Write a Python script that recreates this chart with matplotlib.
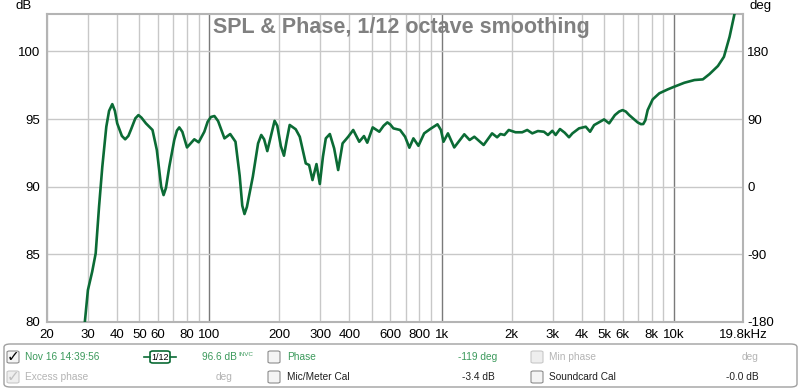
import numpy as np
import matplotlib
matplotlib.use('Agg')
from matplotlib import pyplot as plt
from matplotlib.patches import FancyBboxPatch

plt.rcParams['font.family'] = ['Liberation Sans', 'DejaVu Sans']
plt.rcParams['axes.unicode_minus'] = False

# SPL curve (Hz, dB)
freq = [29.1, 30.0, 31.3, 32.4, 33.5, 34.6, 36.0, 37.0, 38.2, 39.2, 40.1, 42.0,
        43.4, 44.8, 45.9, 48.0, 49.5, 51.0, 53.3, 56.9, 59.4, 62.0, 63.5, 65.0,
        67.2, 70.6, 72.5, 74.2, 76.5, 80.1, 86.1, 89.9, 95.1, 98.3, 101.5, 105.1,
        109.0, 116.1, 122.9, 129.5, 135.0, 138.5, 141.6, 145.0, 153.8, 162.0,
        167.2, 172.0, 177.5, 185.0, 190.8, 196.0, 203.0, 209.4, 215.0, 221.6,
        235.3, 244.9, 259.9, 268.6, 277.8, 289.0, 298.7, 308.0, 317, 329.9, 344.3,
        358.3, 374.3, 395.8, 415.9, 441.5, 462.7, 478.1, 504.5, 538.6, 562.0,
        583.4, 600.0, 619.3, 661.7, 695.4, 725.7, 755.2, 793.8, 840.2, 891.8,
        958.9, 992.0, 1017.6, 1063.4, 1132, 1181.6, 1250.5, 1318.3, 1381.3, 1515,
        1647, 1731, 1789, 1861.5, 1943, 2077, 2220, 2333, 2453, 2593, 2753, 2865,
        2993, 3092, 3228, 3382, 3530, 3652, 3899, 4167, 4350, 4526, 4998, 5254,
        5563, 5800, 6003, 6200, 6410, 6969, 7200, 7368, 7520, 7697, 8090, 8640,
        9393, 10025, 11075, 12235, 13301, 14206, 15446, 16393, 17335, 18218]
spl = [80.0, 82.36, 83.72, 85.07, 88.52, 91.47, 94.43, 95.6, 96.1, 95.6, 94.68,
       93.75, 93.5, 93.75, 94.19, 95.05, 95.29, 95.1, 94.68, 94.19, 92.71, 90.0,
       89.38, 89.9, 91.47, 93.45, 94.15, 94.38, 94.05, 92.9, 93.5, 93.28, 94.06,
       94.8, 95.15, 95.22, 94.85, 93.57, 93.89, 93.32, 90.8, 88.6, 87.98, 88.5,
       90.74, 93.2, 93.82, 93.5, 92.63, 93.9, 94.87, 94.5, 93.0, 92.29, 93.4,
       94.56, 94.24, 93.69, 91.72, 91.6, 90.49, 91.67, 90.2, 92.2, 93.57, 93.89,
       92.83, 91.23, 93.2, 93.69, 94.19, 93.32, 93.74, 93.25, 94.38, 94.06, 94.5,
       94.75, 94.6, 94.31, 94.19, 93.69, 92.88, 93.57, 93.02, 93.94, 94.26, 94.61,
       94.19, 93.32, 93.94, 92.9, 93.32, 93.87, 93.45, 93.69, 93.08, 93.94, 93.65,
       93.89, 93.82, 94.19, 94.02, 94.02, 94.19, 93.94, 94.11, 94.06, 93.82, 94.13,
       93.82, 94.26, 93.99, 93.65, 93.94, 94.31, 94.43, 94.06, 94.55, 94.97, 94.68,
       95.29, 95.55, 95.66, 95.55, 95.29, 94.75, 94.62, 94.63, 94.9, 95.66, 96.45,
       96.9, 97.19, 97.39, 97.68, 97.88, 97.93, 98.32, 98.92, 99.6, 101.08, 102.8]

xticks = [20, 30, 40, 50, 60, 80, 100, 200, 300, 400, 600, 800, 1000, 2000,
          3000, 4000, 5000, 6000, 8000, 10000, 19800]
xlabels = ['20', '30', '40', '50', '60', '80', '100', '200', '300', '400', '600',
           '800', '1k', '2k', '3k', '4k', '5k', '6k', '8k', '10k', '19.8kHz']
dbticks = [80, 85, 90, 95, 100]
degticks = [-180, -90, 0, 90, 180]

fig = plt.figure(figsize=(8, 3.89), dpi=100)
ax = fig.add_axes([47 / 800, 1 - 322 / 389, 696 / 800, 308 / 389])

# grid
minor = []
for dec in [10, 100, 1000, 10000]:
    for m in range(1, 10):
        f = dec * m
        if 20 <= f <= 19800:
            minor.append(f)
for f in minor:
    c = '#7a7a7a' if f in (100, 1000, 10000) else '#c8c8c8'
    ax.axvline(f, color=c, lw=1, zorder=1)
for d in dbticks:
    ax.axhline(d, color='#c8c8c8', lw=1, zorder=1)

ax.plot(freq, spl, color='#0b6b35', lw=1.9, zorder=3, solid_joinstyle='round')

ax.set_xscale('log')
ax.set_xlim(20, 19800)
ax.set_ylim(80, 102.76)
ax.set_xticks(xticks)
ax.set_xticklabels(xlabels)
ax.set_xticks([], minor=True)
ax.set_yticks(dbticks)
ax.tick_params(length=0, labelsize=9.5, colors='#000000', pad=5)
for s in ax.spines.values():
    s.set_color('#b4b4b4')
    s.set_linewidth(1.5)

sec = ax.secondary_yaxis('right', functions=(lambda d: (d - 90) * 18, lambda p: p / 18 + 90))
sec.set_yticks(degticks)
sec.tick_params(length=0, labelsize=9.5, pad=3)
sec.spines['right'].set_visible(False)

fig.text(16 / 800, 1 - 6 / 389, 'dB', fontsize=9.5, va='center')
fig.text(750 / 800, 1 - 6 / 389, 'deg', fontsize=9.5, va='center')
fig.text(401 / 800, 1 - 27 / 389, 'SPL & Phase, 1/12 octave smoothing', fontsize=15.5,
         fontweight='bold', color='#808080', ha='center', va='center')

# legend panel
panel = FancyBboxPatch((4 / 800, 1 - 387 / 389), 793 / 800, 43 / 389,
                       boxstyle='round,pad=0,rounding_size=0.008', transform=fig.transFigure,
                       facecolor='white', edgecolor='#a0a0a0', lw=1)
fig.patches.append(panel)

green = '#3c9a5c'
lgray = '#b4b4b4'
fs = 7.3


def checkbox(x, y, checked=False, faded=False):
    ec = '#c8c8c8' if faded else '#8c8c8c'
    fc = '#eeeeee' if faded else '#f4f4f4'
    fig.patches.append(FancyBboxPatch((x / 800, 1 - (y + 6) / 389), 12 / 800, 12 / 389,
                                      boxstyle='round,pad=0,rounding_size=0.003',
                                      transform=fig.transFigure, facecolor=fc, edgecolor=ec, lw=0.8))
    if checked:
        fig.text((x + 6.5) / 800, 1 - y / 389, '✓', family='DejaVu Sans', fontsize=11,
                 fontweight='bold', color='#c0c0c0' if faded else '#000000', ha='center', va='center')


r1, r2 = 357, 377
checkbox(7, r1, True)
fig.text(25 / 800, 1 - r1 / 389, 'Nov 16 14:39:56', fontsize=fs, color=green, va='center')
fig.patches.append(FancyBboxPatch((150 / 800, 1 - (r1 + 6) / 389), 20 / 800, 12 / 389,
                                  boxstyle='round,pad=0,rounding_size=0.004', transform=fig.transFigure,
                                  facecolor='white', edgecolor='#0b6b35', lw=1.2))
fig.lines.append(plt.Line2D([144 / 800, 150 / 800], [1 - r1 / 389] * 2, transform=fig.transFigure,
                            color='#0b6b35', lw=1.2))
fig.lines.append(plt.Line2D([170 / 800, 176 / 800], [1 - r1 / 389] * 2, transform=fig.transFigure,
                            color='#0b6b35', lw=1.2))
fig.text(160 / 800, 1 - r1 / 389, '1/12', fontsize=6.5, color='#000000', ha='center', va='center')
fig.text(202 / 800, 1 - r1 / 389, '96.6 dB', fontsize=fs, color=green, va='center')
fig.text(238 / 800, 1 - (r1 - 3) / 389, 'INVC', fontsize=4.5, color=green, va='center')
fig.text(233 / 800, 1 - r2 / 389, 'deg', fontsize=fs, color=lgray, va='center', ha='right')
checkbox(7, r2, True, faded=True)
fig.text(25 / 800, 1 - r2 / 389, 'Excess phase', fontsize=fs, color=lgray, va='center')

checkbox(268, r1)
fig.text(287 / 800, 1 - r1 / 389, 'Phase', fontsize=fs, color=green, va='center')
fig.text(497 / 800, 1 - r1 / 389, '-119 deg', fontsize=fs, color=green, va='center', ha='right')
checkbox(268, r2)
fig.text(287 / 800, 1 - r2 / 389, 'Mic/Meter Cal', fontsize=fs, color='#202020', va='center')
fig.text(495 / 800, 1 - r2 / 389, '-3.4 dB', fontsize=fs, color='#202020', va='center', ha='right')

checkbox(531, r1, faded=True)
fig.text(549 / 800, 1 - r1 / 389, 'Min phase', fontsize=fs, color=lgray, va='center')
fig.text(759 / 800, 1 - r1 / 389, 'deg', fontsize=fs, color=lgray, va='center', ha='right')
checkbox(531, r2)
fig.text(549 / 800, 1 - r2 / 389, 'Soundcard Cal', fontsize=fs, color='#202020', va='center')
fig.text(759 / 800, 1 - r2 / 389, '-0.0 dB', fontsize=fs, color='#202020', va='center', ha='right')

fig.savefig('out.png', dpi=100)
